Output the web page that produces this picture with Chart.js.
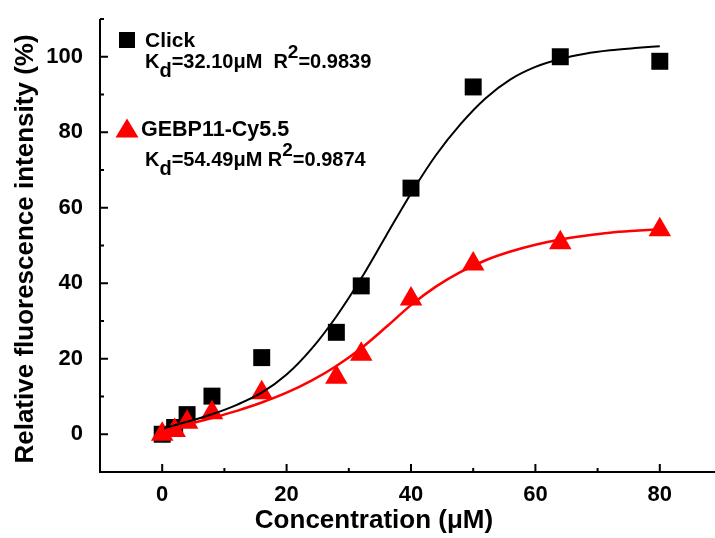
<!DOCTYPE html>
<html>
<head>
<meta charset="utf-8">
<script src="https://cdn.jsdelivr.net/npm/chart.js@4.4.1/dist/chart.umd.min.js"></script>
<style>
  html, body { margin: 0; padding: 0; background: #fff; overflow: hidden; }
  #wrap { width: 715px; height: 538px; overflow: hidden; }
</style>
</head>
<body>
<div id="wrap"><canvas id="bindingChart" width="735" height="538"></canvas></div>
<script>
// measured points
const concentration = [0, 2, 4, 8, 16, 28, 32, 40, 50, 64, 80];
const clickIntensity = [0, 1.8, 5.2, 10.1, 20.3, 27.0, 39.3, 65.2, 92.0, 100.0, 98.8];
const gebpIntensity = [0, 1.0, 3.2, 5.7, 11.0, 15.1, 21.2, 35.8, 45.1, 50.7, 54.2];

// fitted binding curves
const clickFitX = [0.3, 4, 8, 12, 16, 20, 24, 28, 32, 36, 40, 44, 48, 52, 56, 60, 64, 68, 72, 76, 80];
const clickFitY = [1.6, 3.3, 5.3, 7.8, 11.0, 15.8, 22.6, 31.2, 41.3, 52.6, 63.8, 73.9, 82.2, 89.0, 94.0, 97.3, 99.4, 100.8, 101.7, 102.3, 102.8];
const gebpFitX = [0, 4, 8, 12, 16, 20, 24, 28, 32, 36, 40, 44, 48, 52, 56, 60, 64, 68, 72, 76, 80];
const gebpFitY = [1.0, 2.6, 4.3, 6.2, 8.4, 11.0, 14.2, 18.1, 22.8, 28.4, 34.2, 39.1, 43.0, 46.1, 48.4, 50.2, 51.6, 52.6, 53.4, 53.9, 54.3];

// axis ticks
const xMajorTicks = [0, 20, 40, 60, 80];
const xMinorTicks = [10, 30, 50, 70, 90];
const yMajorTicks = [0, 20, 40, 60, 80, 100];
const yMinorTicks = [10, 30, 50, 70, 90, 110];

const FONT = '"Liberation Sans", Arial, Helvetica, sans-serif';

const toPoints = (xs, ys) => xs.map((x, i) => ({ x: x, y: ys[i] }));

// Origin-style axes: spines with inward ticks
const axesPlugin = {
    id: 'originAxes',
    afterDraw(chart) {
        const { ctx, scales: { x, y } } = chart;
        const left = x.getPixelForValue(-10);
        const right = x.getPixelForValue(90);
        const bottom = y.getPixelForValue(-10);
        const top = y.getPixelForValue(110);
        ctx.save();
        ctx.strokeStyle = '#000';
        ctx.lineWidth = 2;
        ctx.beginPath();
        ctx.moveTo(left, top);
        ctx.lineTo(left, bottom);
        ctx.lineTo(right, bottom);
        xMajorTicks.forEach(v => { const px = x.getPixelForValue(v); ctx.moveTo(px, bottom); ctx.lineTo(px, bottom - 8); });
        xMinorTicks.forEach(v => { const px = x.getPixelForValue(v); ctx.moveTo(px, bottom); ctx.lineTo(px, bottom - 4); });
        yMajorTicks.forEach(v => { const py = y.getPixelForValue(v); ctx.moveTo(left, py); ctx.lineTo(left + 8, py); });
        yMinorTicks.forEach(v => { const py = y.getPixelForValue(v); ctx.moveTo(left, py); ctx.lineTo(left + 4, py); });
        ctx.stroke();

        // axis titles
        ctx.fillStyle = '#000';
        ctx.font = 'bold 26px ' + FONT;
        ctx.textAlign = 'center';
        ctx.textBaseline = 'middle';
        ctx.fillText('Concentration (\u03bcM)', 374, 521);
        ctx.translate(26, 249);
        ctx.rotate(-Math.PI / 2);
        ctx.fillText('Relative fluorescence intensity (%)', 0, 0);
        ctx.restore();
    }
};

// text runs with sub/superscripts
function drawRich(ctx, x, y, parts) {
    parts.forEach(p => {
        ctx.font = 'bold ' + (p.size || 20) + 'px ' + FONT;
        ctx.fillText(p.text, x, y + (p.shift || 0));
        x += ctx.measureText(p.text).width;
    });
}

const legendPlugin = {
    id: 'fitLegend',
    afterDraw(chart) {
        const ctx = chart.ctx;
        ctx.save();
        ctx.fillStyle = '#000';
        ctx.fillRect(119, 32, 16, 16);

        ctx.fillStyle = '#ff0000';
        ctx.beginPath();
        ctx.moveTo(127, 118.5);
        ctx.lineTo(138.5, 137.5);
        ctx.lineTo(115.5, 137.5);
        ctx.closePath();
        ctx.fill();

        ctx.fillStyle = '#000';
        ctx.textAlign = 'left';
        ctx.textBaseline = 'alphabetic';
        drawRich(ctx, 145, 47, [{ text: 'Click', size: 21 }]);
        drawRich(ctx, 145, 68, [
            { text: 'K' }, { text: 'd', size: 20, shift: 9 },
            { text: '=32.10\u03bcM  R' }, { text: '2', size: 19, shift: -10 },
            { text: '=0.9839' }
        ]);
        drawRich(ctx, 141, 136, [{ text: 'GEBP11-Cy5.5', size: 21.5 }]);
        drawRich(ctx, 145, 166, [
            { text: 'K' }, { text: 'd', size: 20, shift: 9 },
            { text: '=54.49\u03bcM R' }, { text: '2', size: 19, shift: -10 },
            { text: '=0.9874' }
        ]);
        ctx.restore();
    }
};

const tickFont = { family: FONT, size: 22, weight: 'bold' };

new Chart(document.getElementById('bindingChart'), {
    type: 'scatter',
    data: {
        datasets: [
            {
                label: 'Click fit',
                data: toPoints(clickFitX, clickFitY),
                showLine: true,
                borderColor: '#000',
                borderWidth: 2,
                pointRadius: 0,
                cubicInterpolationMode: 'monotone'
            },
            {
                label: 'GEBP11-Cy5.5 fit',
                data: toPoints(gebpFitX, gebpFitY),
                showLine: true,
                borderColor: '#ff0000',
                borderWidth: 2.5,
                pointRadius: 0,
                cubicInterpolationMode: 'monotone'
            },
            {
                label: 'GEBP11-Cy5.5',
                data: toPoints(concentration, gebpIntensity),
                pointStyle: 'triangle',
                pointRadius: 13,
                pointBorderWidth: 0,
                backgroundColor: '#ff0000',
                borderColor: '#ff0000'
            },
            {
                label: 'Click',
                data: toPoints(concentration, clickIntensity),
                pointStyle: 'rect',
                pointRadius: 12,
                pointBorderWidth: 0,
                backgroundColor: '#000',
                borderColor: '#000'
            }
        ]
    },
    options: {
        responsive: false,
        animation: false,
        layout: { padding: { top: 19, right: 2, left: 0, bottom: 0 } },
        plugins: {
            legend: { display: false },
            tooltip: { enabled: false }
        },
        scales: {
            x: {
                type: 'linear',
                min: -10,
                max: 90,
                grid: { display: false },
                border: { display: false },
                afterBuildTicks: axis => { axis.ticks = xMajorTicks.map(v => ({ value: v })); },
                afterFit: axis => {
                    axis.height = 66;
                    axis.paddingLeft = 0;
                    axis.paddingRight = 0;
                },
                ticks: { color: '#000', font: tickFont, padding: 2, maxRotation: 0 }
            },
            y: {
                type: 'linear',
                min: -10,
                max: 110,
                grid: { display: false },
                border: { display: false },
                afterBuildTicks: axis => { axis.ticks = yMajorTicks.map(v => ({ value: v })); },
                afterFit: axis => {
                    axis.width = 100;
                    axis.paddingTop = 0;
                    axis.paddingBottom = 0;
                },
                ticks: { color: '#000', font: tickFont, padding: 9 }
            }
        }
    },
    plugins: [axesPlugin, legendPlugin]
});
</script>
</body>
</html>
